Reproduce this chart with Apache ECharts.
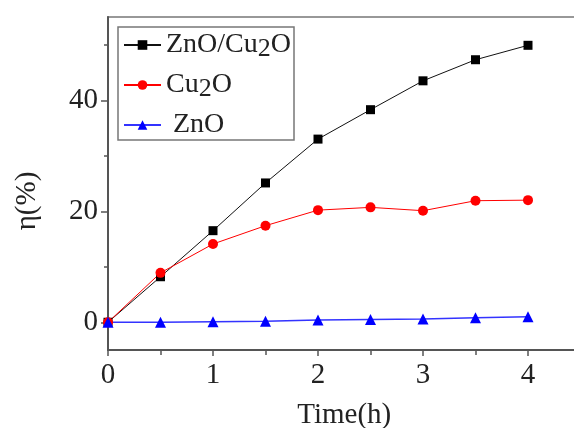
<!DOCTYPE html>
<html>
<head>
<meta charset="utf-8">
<script src="https://cdn.jsdelivr.net/npm/echarts@6/dist/echarts.min.js"></script>
<style>html,body{margin:0;padding:0;background:#fff}#c{width:574px;height:428px}</style>
</head>
<body>
<div id="c"></div>
<script>
const times = [0, 0.5, 1, 1.5, 2, 2.5, 3, 3.5, 4];
const seriesNames = ['ZnO/Cu2O', 'Cu2O', 'ZnO'];
const znoCu2o = [0, 8.2, 16.5, 25.1, 33.0, 38.3, 43.5, 47.3, 49.9];
const cu2o = [0, 8.9, 14.1, 17.4, 20.2, 20.7, 20.1, 21.9, 22.0];
const zno = [0, 0.0, 0.1, 0.2, 0.4, 0.5, 0.6, 0.8, 1.0];
const xMajorTicks = [0, 1, 2, 3, 4];
const xMinorTicks = [0.5, 1.5, 2.5, 3.5];
const yMajorTicks = [0, 20, 40];
const yMinorTicks = [10, 30, 50];

const FONT = 'Liberation Serif';
const txt = {fontFamily: FONT, fontSize: 29, color: '#222'};
const axisLineStyle = {color: '#555', width: 2};

function pairs(vals) { return times.map((t, i) => [t, vals[i]]); }

const chart = echarts.init(document.getElementById('c'), null, {renderer: 'canvas'});
chart.setOption({
  animation: false,
  backgroundColor: '#fff',
  grid: {left: 108, right: -6.5, top: 17, bottom: 78, outerBoundsMode: 'none', containLabel: false,
    show: true, borderColor: '#777', borderWidth: 1.5},
  legend: {
    orient: 'vertical', left: 118, top: 27,
    padding: [4, 3, 1, 5], itemGap: 9,
    itemWidth: 37, itemHeight: 12,
    borderColor: '#777', borderWidth: 1.5,
    data: seriesNames,
    formatter: n => (n === 'ZnO' ? ' ' : '') + n.replace('2', '{sub|2}'),
    textStyle: {fontFamily: FONT, fontSize: 28, color: '#222',
      rich: {sub: {fontFamily: FONT, fontSize: 26, color: '#222', padding: [8, 0, 0, 0]}}}
  },
  xAxis: [{
    type: 'value', min: 0, max: 4.5,
    axisLine: {show: true, onZero: false, lineStyle: axisLineStyle},
    axisTick: {show: true, length: 6, customValues: xMajorTicks, lineStyle: {color: '#555', width: 1.5}},
    axisLabel: {customValues: xMajorTicks, margin: 11, ...txt},
    splitLine: {show: false},
    name: 'Time(h)', nameLocation: 'middle', nameGap: 51, nameTextStyle: {...txt}
  }, {
    type: 'value', min: 0, max: 4.5, position: 'bottom',
    axisLine: {show: false, onZero: false},
    axisTick: {show: true, length: 5, customValues: xMinorTicks, lineStyle: {color: '#555', width: 1.5}},
    axisLabel: {show: false}, splitLine: {show: false}
  }],
  yAxis: [{
    type: 'value', min: -5, max: 55,
    axisLine: {show: true, onZero: false, lineStyle: axisLineStyle},
    axisTick: {show: true, length: 7, customValues: yMajorTicks, lineStyle: {color: '#555', width: 1.5}},
    axisLabel: {customValues: yMajorTicks, margin: 10, ...txt},
    splitLine: {show: false},
    name: 'η(%)', nameLocation: 'middle', nameGap: 66, nameTextStyle: {...txt, padding: [0, 35, 0, 0]}
  }, {
    type: 'value', min: -5, max: 55, position: 'left',
    axisLine: {show: false, onZero: false},
    axisTick: {show: true, length: 4, customValues: yMinorTicks, lineStyle: {color: '#555', width: 1.5}},
    axisLabel: {show: false}, splitLine: {show: false}
  }],
  series: [{
    name: seriesNames[0], type: 'line', data: pairs(znoCu2o),
    symbol: 'rect', symbolSize: 9,
    lineStyle: {color: '#111', width: 1}, itemStyle: {color: '#000'}
  }, {
    name: seriesNames[1], type: 'line', data: pairs(cu2o),
    symbol: 'circle', symbolSize: 10,
    lineStyle: {color: '#ff0000', width: 1}, itemStyle: {color: '#ff0000'}
  }, {
    name: seriesNames[2], type: 'line', data: pairs(zno),
    symbol: 'triangle', symbolSize: 11,
    lineStyle: {color: '#3333ff', width: 1.5}, itemStyle: {color: '#0000ff'}
  }]
});
</script>
</body>
</html>
